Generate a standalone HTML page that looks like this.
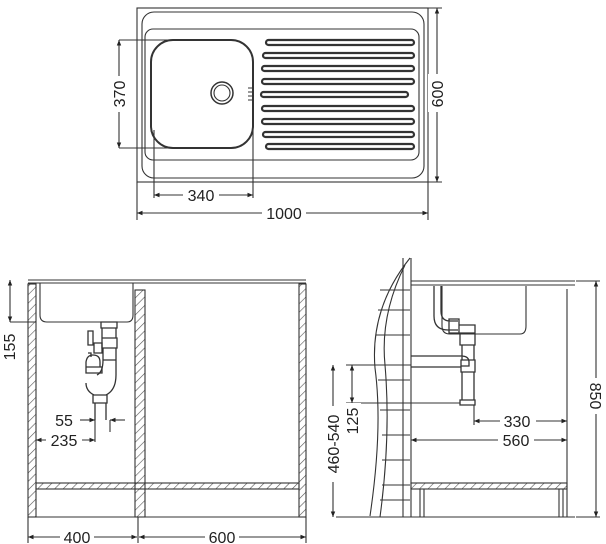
<!DOCTYPE html>
<html><head><style>html,body{margin:0;padding:0;background:#fff}svg{display:block}text{font-family:"Liberation Sans",sans-serif;font-size:16px;fill:#222}</style></head><body>
<svg width="606" height="544" viewBox="0 0 606 544" xmlns="http://www.w3.org/2000/svg">
<defs>
<marker id="a" viewBox="0 0 10 10" refX="10" refY="5" markerWidth="7" markerHeight="5" orient="auto-start-reverse"><path d="M0,1 L10,5 L0,9z" fill="#222"/></marker>
<pattern id="h" width="6" height="6" patternUnits="userSpaceOnUse" patternTransform="rotate(45)"><line x1="0" y1="0" x2="0" y2="6" stroke="#555" stroke-width="1.2"/></pattern>
</defs>
<g fill="none" stroke="#333" stroke-width="1.1">
<rect x="137" y="8" width="291" height="174"/>
<rect x="142" y="12" width="282" height="166" rx="12"/>
<rect x="145" y="29" width="274" height="131" rx="8"/>
<rect x="151" y="40" width="102" height="108" rx="22" stroke-width="2"/>
<circle cx="222" cy="93" r="11" stroke-width="1.5"/><circle cx="222" cy="93" r="8"/>
<path d="M248,88h6M248,92h6M248,96h6M248,100h6"/>
<g stroke-width="2.2">
<rect x="266" y="40" width="148" height="5" rx="2.5"/><rect x="263" y="53" width="151" height="5" rx="2.5"/>
<rect x="262" y="66" width="152" height="5" rx="2.5"/><rect x="262" y="79" width="152" height="5" rx="2.5"/>
<rect x="261" y="92" width="147" height="5" rx="2.5"/><rect x="262" y="106" width="152" height="5" rx="2.5"/>
<rect x="262" y="119" width="152" height="5" rx="2.5"/><rect x="263" y="132" width="151" height="5" rx="2.5"/>
<rect x="266" y="144" width="148" height="5" rx="2.5"/></g>
<path d="M119,40h60M119,148h55M154,130v68M253,130v68M137,182v38M428,182v38M428,8h14M428,182h14"/>
<line x1="119" y1="40" x2="119" y2="148" marker-start="url(#a)" marker-end="url(#a)"/>
<line x1="154" y1="195" x2="253" y2="195" marker-start="url(#a)" marker-end="url(#a)"/>
<line x1="137" y1="213" x2="428" y2="213" marker-start="url(#a)" marker-end="url(#a)"/>
<line x1="437" y1="8" x2="437" y2="182" marker-start="url(#a)" marker-end="url(#a)"/>
<!-- bottom left -->
<rect x="28" y="284" width="8" height="233" fill="url(#h)"/>
<rect x="135" y="290" width="10" height="227" fill="url(#h)"/>
<rect x="299" y="284" width="7" height="233" fill="url(#h)"/>
<rect x="36" y="483" width="263" height="6" fill="url(#h)"/>
<path d="M28,280H306M28,283H306M28,517H306M40,283v32q0,7 7,7h80q6,0 6,-7v-32"/>
<g stroke-width="1.3">
<path d="M101,322h16v6h-16zM102,328h14v10h-14zM102,338h15v10h-15zM103,348h13v12h-13zM103,360q0,12 -6,15M116,360v15q0,15 -10,20h-12q-8,-4 -8,-12"/>
<path d="M88,331h5v14h-5zM94,343h8v10h-8zM88,353h3v4"/>
<path d="M86,362q1,-7 7,-7q7,0 7,7v5h-14zM86,367h16v6h-16z"/>
<path d="M93,395v8h14v-8M95,403v17M106,403v17"/>
</g>
<path d="M10,322h26M28,517v26M138,517v26M306,517v26M110,420v12M95,420v22"/>
<line x1="10" y1="280" x2="10" y2="322" marker-start="url(#a)" marker-end="url(#a)"/>
<line x1="80" y1="420" x2="95" y2="420" marker-end="url(#a)"/>
<line x1="125" y1="420" x2="110" y2="420" marker-end="url(#a)"/>
<line x1="36" y1="440" x2="95" y2="440" marker-start="url(#a)" marker-end="url(#a)"/>
<line x1="28" y1="537" x2="137" y2="537" marker-start="url(#a)" marker-end="url(#a)"/>
<line x1="139" y1="537" x2="306" y2="537" marker-start="url(#a)" marker-end="url(#a)"/>
<!-- bottom right -->
<path d="M410,258q-40,50 -35,110q8,60 -5,148M405,265q-25,50 -20,100q6,70 -5,152"/>
<path d="M411,258V517M403,258v259M380,290h30M378,310h32M376,335h34M378,380h32M380,410h30M382,435h28M382,460h28M382,485h28M380,500h30"/>
<path d="M411,281H575M411,285H575M336,517H575"/>
<rect x="411" y="483" width="156" height="6" fill="url(#h)"/>
<path d="M567,289V517M559,489v28M563,489v28M420,489v28M424,489v28M576,281h24M576,517h24"/>
<path d="M442,286v40q0,8 8,8h70q6,0 6,-8v-40"/>
<g stroke-width="1.3">
<path d="M434,286v30q0,14 14,14h10M441,286v25q0,10 9,10h8M449,319h10v14h-10zM459,325h16v8h-16zM460,333h15v12h-15zM462,345v15h12v-15zM411,356h50q8,0 8,6v4h-8M411,367h50M461,360h14v12h-14zM462,372h12v28h-12zM460,400h15v5h-15z"/>
</g>
<path d="M346,365h65M346,403h114"/>
<line x1="474" y1="405" x2="474" y2="425"/>
<line x1="474" y1="421" x2="567" y2="421" marker-start="url(#a)" marker-end="url(#a)"/>
<line x1="411" y1="440" x2="567" y2="440" marker-start="url(#a)" marker-end="url(#a)"/>
<line x1="596" y1="281" x2="596" y2="517" marker-start="url(#a)" marker-end="url(#a)"/>
<line x1="333" y1="365" x2="333" y2="517" marker-start="url(#a)" marker-end="url(#a)"/>
<line x1="352" y1="365" x2="352" y2="403" marker-start="url(#a)" marker-end="url(#a)"/>
</g>
<g stroke="none">
<rect x="183" y="187" width="36" height="16" fill="#fff"/><rect x="262" y="205" width="44" height="16" fill="#fff"/>
<rect x="110" y="76" width="18" height="36" fill="#fff"/><rect x="428" y="74" width="18" height="38" fill="#fff"/>
<rect x="60" y="529" width="34" height="16" fill="#fff"/><rect x="205" y="529" width="34" height="16" fill="#fff"/>
<rect x="46" y="432" width="36" height="16" fill="#fff"/><rect x="498" y="432" width="36" height="16" fill="#fff"/>
<rect x="500" y="413" width="36" height="16" fill="#fff"/><rect x="587" y="378" width="18" height="36" fill="#fff"/>
<rect x="0" y="330" width="18" height="34" fill="#fff"/><rect x="324" y="406" width="18" height="76" fill="#fff"/><rect x="343" y="403" width="18" height="36" fill="#fff"/>
</g>
<text x="201" y="201" text-anchor="middle">340</text>
<text x="284" y="219" text-anchor="middle">1000</text>
<text transform="translate(125,94) rotate(-90)" text-anchor="middle">370</text>
<text transform="translate(443,94) rotate(-90)" text-anchor="middle">600</text>
<text x="77" y="543" text-anchor="middle">400</text>
<text x="222" y="543" text-anchor="middle">600</text>
<text x="64" y="426" text-anchor="middle">55</text>
<text x="64" y="446" text-anchor="middle">235</text>
<text transform="translate(15,347) rotate(-90)" text-anchor="middle">155</text>
<text x="517" y="427" text-anchor="middle">330</text>
<text x="516" y="446" text-anchor="middle">560</text>
<text transform="translate(590,396) rotate(90)" text-anchor="middle">850</text>
<text transform="translate(339,444) rotate(-90)" text-anchor="middle">460-540</text>
<text transform="translate(358,421) rotate(-90)" text-anchor="middle">125</text>
</svg>
</body></html>
